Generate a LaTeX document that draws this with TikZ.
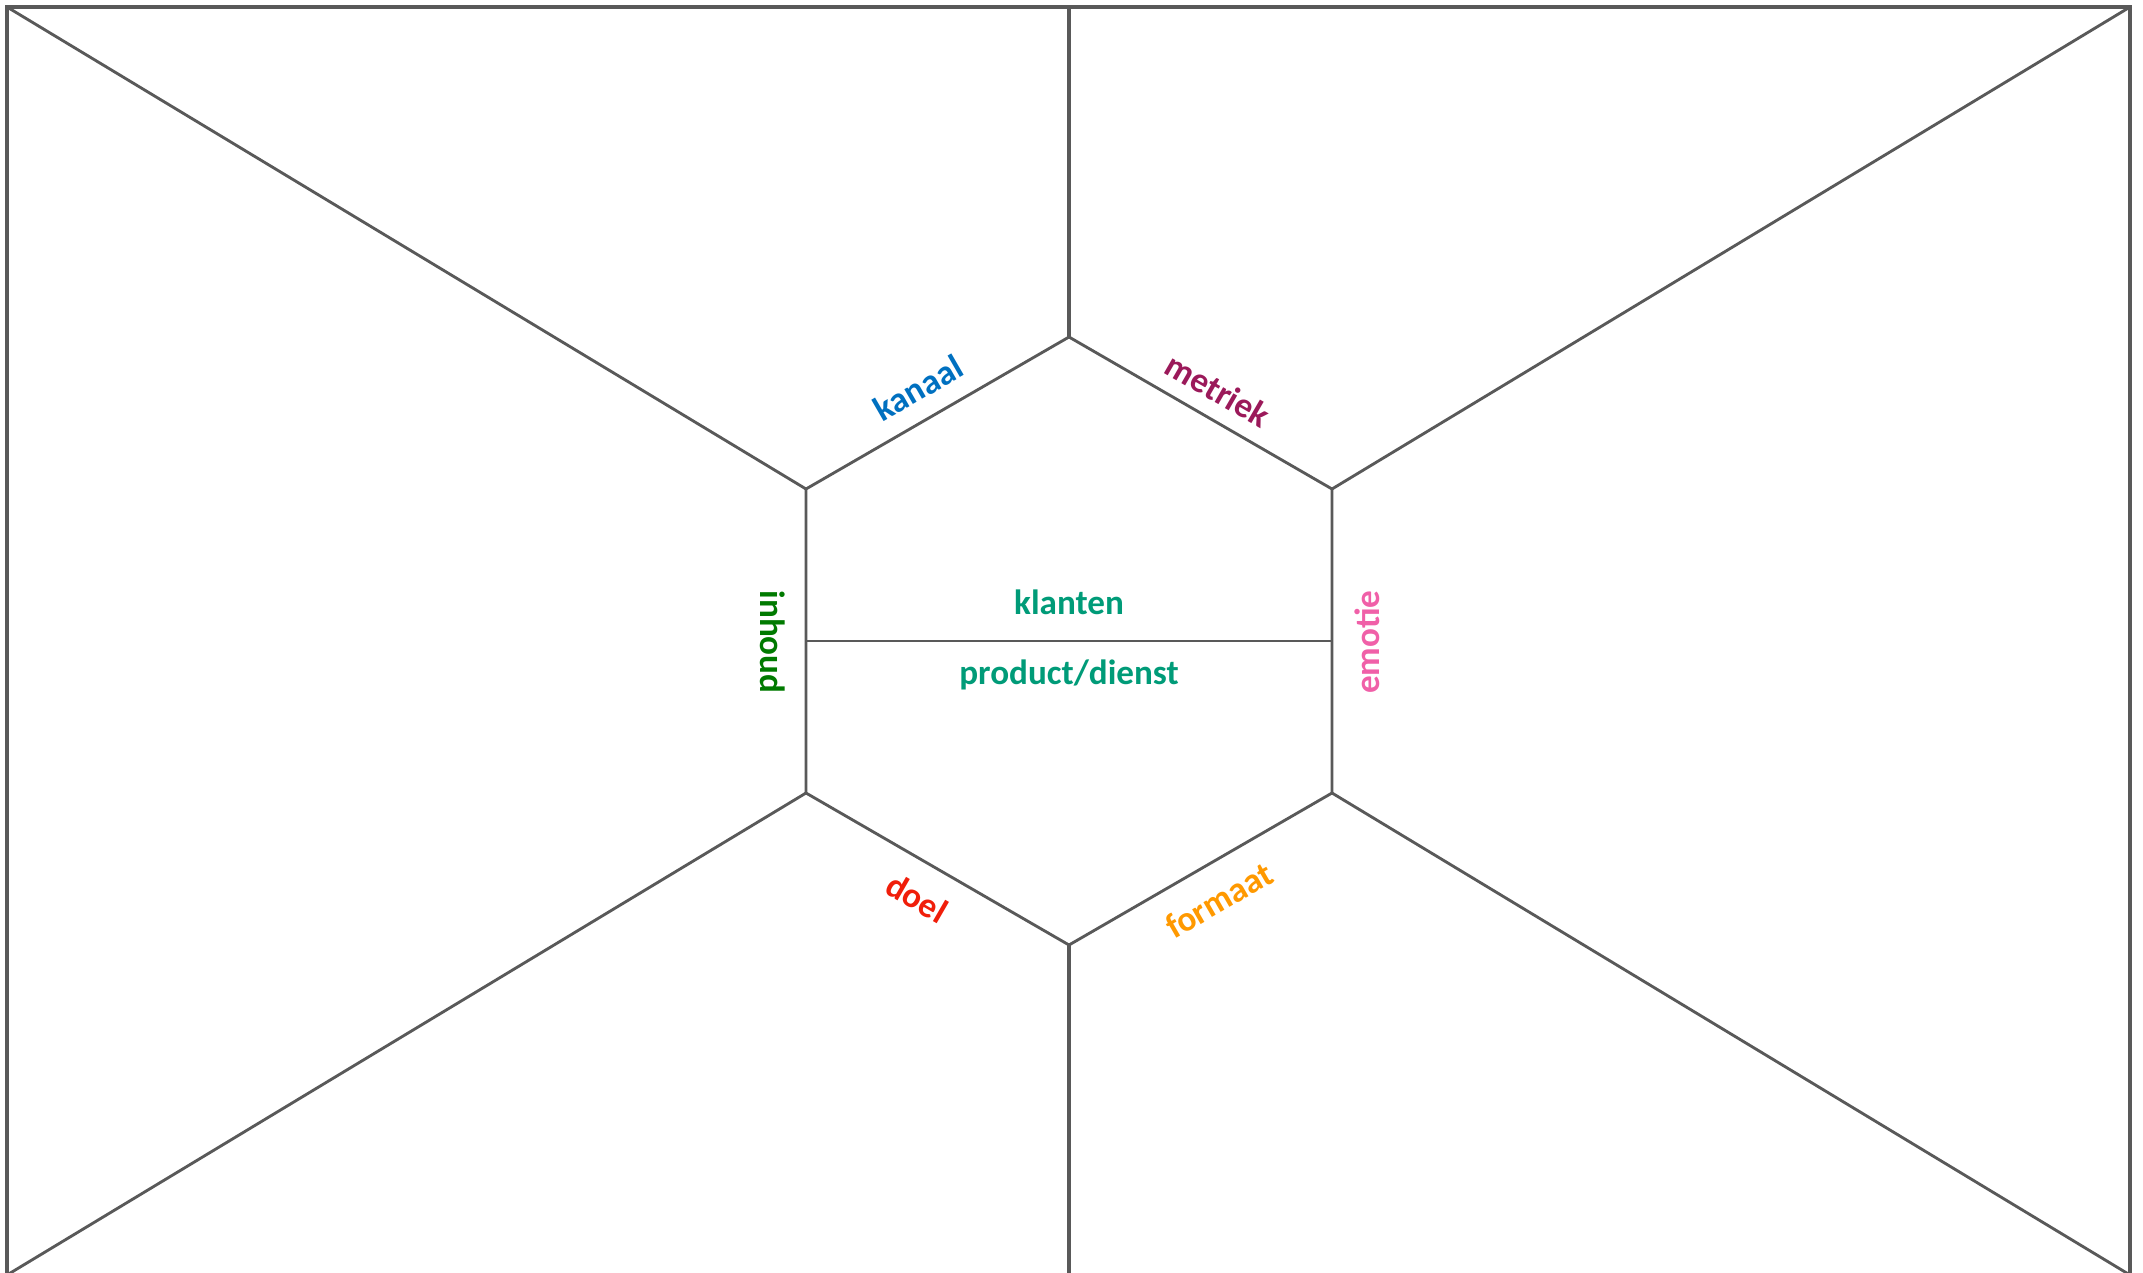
\documentclass[tikz,border=0pt]{standalone}
\usepackage{fontspec}
\setmainfont{Carlito}
\definecolor{linegray}{RGB}{89,89,89}
\definecolor{cKanaal}{RGB}{0,112,192}
\definecolor{cMetriek}{RGB}{155,25,90}
\definecolor{cInhoud}{RGB}{0,122,0}
\definecolor{cEmotie}{RGB}{240,96,168}
\definecolor{cDoel}{RGB}{240,30,10}
\definecolor{cFormaat}{RGB}{255,153,0}
\definecolor{cTeal}{RGB}{0,155,120}
\tikzset{
  frame/.style={draw=linegray, line width=1.4pt},
  edge/.style={draw=linegray, line width=1pt, line join=miter},
  lbl/.style={inner sep=0pt, font=\fontsize{12.3}{14}\selectfont\bfseries}
}
\begin{document}
\begin{tikzpicture}[x=0.35pt,y=-0.35pt]
\useasboundingbox (0,0) rectangle (2143,1273);
% corners
\coordinate (TL) at (7,7);
\coordinate (TR) at (2130,7);
\coordinate (BL) at (7,1275);
\coordinate (BR) at (2130,1275);
\coordinate (TM) at (1069,7);
\coordinate (BM) at (1069,1275);
% hexagon
\coordinate (HT) at (1069,337);
\coordinate (HUL) at (806,489);
\coordinate (HUR) at (1332,489);
\coordinate (HLL) at (806,793);
\coordinate (HLR) at (1332,793);
\coordinate (HB) at (1069,945);
\coordinate (ML) at (806,641);
\coordinate (MR) at (1332,641);
% outer frame
\draw[frame] (TL) rectangle (BR);
% hexagon and spokes
\draw[edge] (HT) -- (HUR) -- (HLR) -- (HB) -- (HLL) -- (HUL) -- cycle;
\draw[edge] (ML) -- (MR);
\draw[frame] (TM) -- (HT);
\draw[frame] (HB) -- (BM);
\draw[edge] (TL) -- (HUL);
\draw[edge] (TR) -- (HUR);
\draw[edge] (BL) -- (HLL);
\draw[edge] (BR) -- (HLR);
% labels
\node[lbl, text=cTeal] (klanten) at (1069,602) {klanten};
\node[lbl, text=cTeal] (product) at (1069,675) {product/dienst};
\node[lbl, text=cKanaal, rotate=30] (kanaal) at (918,388) {kanaal};
\node[lbl, text=cMetriek, rotate=-30] (metriek) at (1218,390) {metriek};
\node[lbl, text=cInhoud, rotate=-90] (inhoud) at (773,642) {inhoud};
\node[lbl, text=cEmotie, rotate=90] (emotie) at (1367,642) {emotie};
\node[lbl, text=cDoel, rotate=-30] (doel) at (917,898) {doel};
\node[lbl, text=cFormaat, rotate=30] (formaat) at (1219,900) {formaat};
\end{tikzpicture}
\end{document}
